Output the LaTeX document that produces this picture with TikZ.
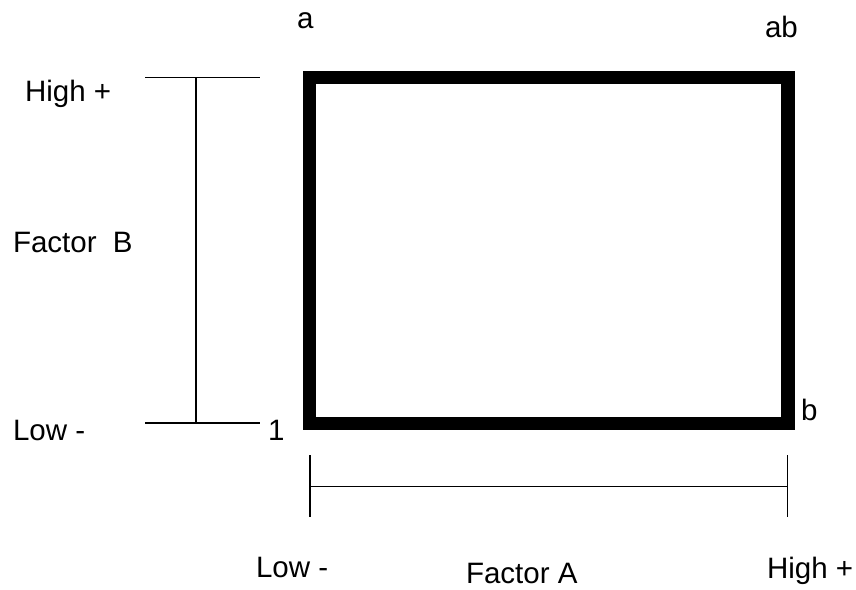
\documentclass[tikz,border=0pt]{standalone}
\usepackage{fontspec}
\setmainfont{Liberation Sans}
\begin{document}
\begin{tikzpicture}[x=1pt,y=-1pt,
  lbl/.style={anchor=base west,inner sep=0pt,outer sep=0pt,font=\fontsize{29.5}{35}\selectfont},
  thin line/.style={line width=1.3pt,draw=black},
  thick box/.style={line width=13.5pt,draw=black,line join=miter}]
\useasboundingbox (0,0) rectangle (856,589);
% corner points of the square
\coordinate (c1) at (309.5,423.5);
\coordinate (cb) at (788,423.5);
\coordinate (cab) at (788,77.5);
\coordinate (ca) at (309.5,77.5);
\draw[thick box] (c1) -- (cb) -- (cab) -- (ca) -- cycle;
% Factor B bracket
\coordinate (bt1) at (145,77.5);
\coordinate (bt2) at (260,77.5);
\coordinate (btm) at (196,77.5);
\coordinate (bb1) at (145,423);
\coordinate (bb2) at (260,423);
\coordinate (bbm) at (196,423);
\draw[thin line] (bt1) -- (bt2);
\draw[thin line] (bb1) -- (bb2);
\draw[thin line] (btm) -- (bbm);
% Factor A bracket
\coordinate (al1) at (310,455);
\coordinate (al2) at (310,517);
\coordinate (alm) at (310,486.7);
\coordinate (ar1) at (787.5,455);
\coordinate (ar2) at (787.5,517);
\coordinate (arm) at (787.5,486.7);
\draw[thin line] (al1) -- (al2);
\draw[thin line] (ar1) -- (ar2);
\draw[thin line] (alm) -- (arm);
% labels
\node[lbl] (la) at (297,28) {a};
\node[lbl] (lab) at (765,37) {ab};
\node[lbl] (lhighb) at (25,101.5) {High +};
\node[lbl] (lfacb) at (13,252) {Factor\ \ B};
\node[lbl] (llowb) at (13,440) {Low -};
\node[lbl] (l1) at (268,440) {1};
\node[lbl] (lb) at (801,420) {b};
\node[lbl] (llowa) at (256,577) {Low -};
\node[lbl] (lfaca) at (466,583) {Factor A};
\node[lbl] (lhigha) at (767,578) {High +};
\end{tikzpicture}
\end{document}
